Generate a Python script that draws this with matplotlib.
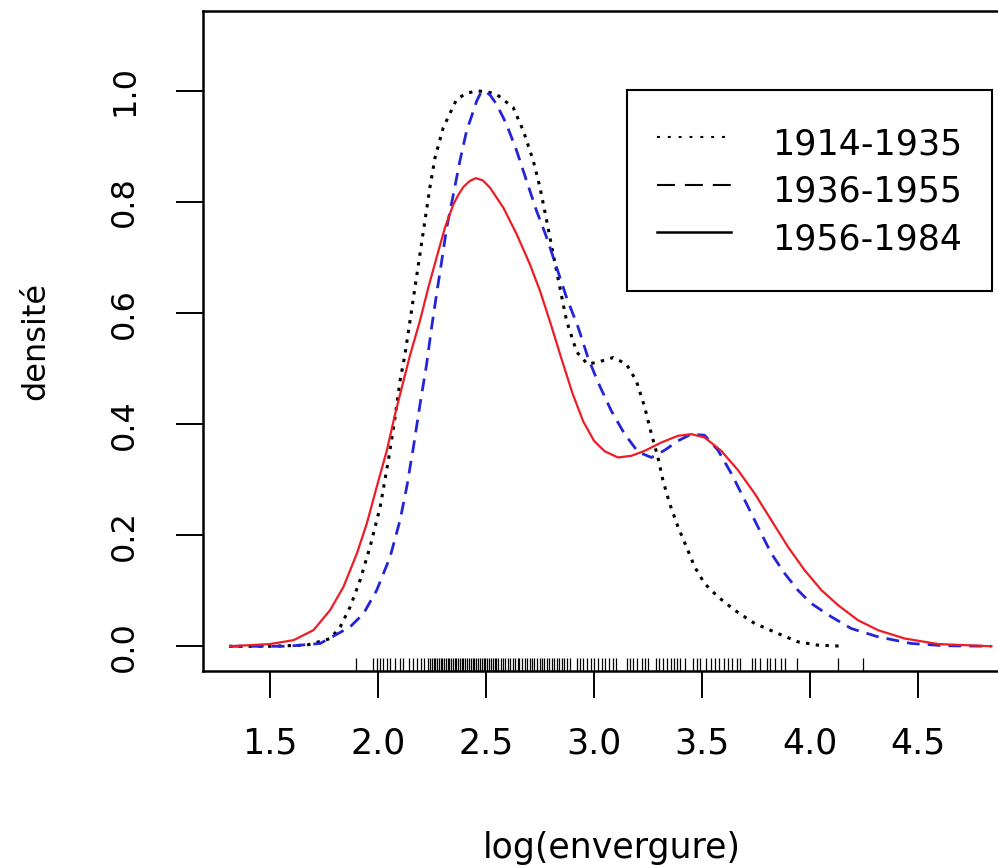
import matplotlib.pyplot as plt
from matplotlib.lines import Line2D

# densite de log(envergure) par periode
x_1914 = [1.31, 1.50, 1.67, 1.78, 1.825, 1.871, 1.917, 1.963, 2.010, 2.048, 2.079, 2.102,
          2.125, 2.148, 2.171, 2.194, 2.217, 2.240, 2.264, 2.302, 2.364, 2.41, 2.457, 2.50,
          2.549, 2.626, 2.673, 2.719, 2.750, 2.781, 2.811, 2.842, 2.873, 2.920, 2.97, 3.02,
          3.09, 3.15, 3.196, 3.235, 3.266, 3.296, 3.319, 3.350, 3.389, 3.428, 3.466, 3.512,
          3.574, 3.651, 3.744, 3.852, 3.944, 4.037, 4.16]
y_1914 = [0.0, 0.0, 0.002, 0.014, 0.035, 0.071, 0.119, 0.179, 0.251, 0.335, 0.413, 0.478,
          0.526, 0.586, 0.646, 0.706, 0.766, 0.826, 0.880, 0.934, 0.985, 0.996, 1.000, 0.999,
          0.994, 0.970, 0.928, 0.874, 0.826, 0.766, 0.706, 0.646, 0.586, 0.530, 0.508, 0.512,
          0.520, 0.508, 0.478, 0.430, 0.382, 0.340, 0.299, 0.257, 0.215, 0.179, 0.143, 0.113,
          0.089, 0.065, 0.041, 0.023, 0.008, 0.002, 0.0]

x_1936 = [1.315, 1.578, 1.732, 1.871, 1.933, 1.994, 2.056, 2.102, 2.133, 2.164, 2.195,
          2.225, 2.248, 2.271, 2.295, 2.318, 2.349, 2.379, 2.410, 2.457, 2.475, 2.495, 2.52,
          2.549, 2.595, 2.642, 2.688, 2.734, 2.781, 2.827, 2.873, 2.926, 2.972, 3.019, 3.080,
          3.142, 3.204, 3.266, 3.327, 3.389, 3.451, 3.512, 3.574, 3.636, 3.698, 3.759,
          3.821, 3.883, 3.944, 4.006, 4.099, 4.191, 4.315, 4.469, 4.623, 4.84]
y_1936 = [0.0, 0.0, 0.005, 0.035, 0.059, 0.101, 0.161, 0.227, 0.287, 0.359, 0.437,
          0.508, 0.574, 0.634, 0.694, 0.754, 0.814, 0.874, 0.928, 0.982, 0.996, 1.000, 0.992,
          0.976, 0.940, 0.892, 0.838, 0.784, 0.736, 0.682, 0.628, 0.575, 0.520, 0.475, 0.424,
          0.382, 0.350, 0.340, 0.353, 0.370, 0.382, 0.380, 0.353, 0.311, 0.263, 0.215,
          0.167, 0.131, 0.101, 0.077, 0.053, 0.032, 0.017, 0.005, 0.001, 0.0]

x_1956 = [1.315, 1.5, 1.609, 1.701, 1.778, 1.840, 1.902, 1.948, 1.994, 2.041, 2.079,
          2.118, 2.148, 2.194, 2.233, 2.271, 2.310, 2.349, 2.372, 2.395, 2.425, 2.453, 2.485,
          2.518, 2.580, 2.642, 2.703, 2.75, 2.80, 2.85, 2.90, 2.95, 3.00, 3.05, 3.111, 3.173,
          3.235, 3.312, 3.389, 3.451, 3.512, 3.589, 3.667, 3.744, 3.821, 3.898, 3.975, 4.053,
          4.130, 4.222, 4.315, 4.438, 4.593, 4.84]
y_1956 = [0.0, 0.004, 0.011, 0.029, 0.065, 0.107, 0.167, 0.221, 0.287, 0.353, 0.418,
          0.478, 0.524, 0.586, 0.646, 0.700, 0.754, 0.796, 0.813, 0.827, 0.838, 0.843, 0.839,
          0.826, 0.790, 0.742, 0.688, 0.640, 0.580, 0.517, 0.456, 0.405, 0.370, 0.351, 0.340,
          0.343, 0.352, 0.367, 0.379, 0.382, 0.376, 0.352, 0.317, 0.275, 0.227, 0.179, 0.137,
          0.101, 0.074, 0.047, 0.029, 0.014, 0.004, 0.0]

# observations (rug)
rug = [1.898, 1.978, 1.993, 2.009, 2.024, 2.043, 2.055, 2.078, 2.101, 2.117, 2.145, 2.163,
       2.179, 2.197, 2.213,
       2.233, 2.241, 2.250, 2.258, 2.266, 2.272, 2.281, 2.290, 2.297, 2.305, 2.314, 2.322,
       2.330, 2.337, 2.346, 2.355, 2.362, 2.371, 2.380, 2.388, 2.395, 2.404, 2.412, 2.421,
       2.430, 2.438, 2.446, 2.455, 2.463, 2.472, 2.480, 2.489, 2.497, 2.505, 2.514, 2.522,
       2.531, 2.540, 2.548,
       2.556, 2.568, 2.579, 2.590, 2.602, 2.611, 2.623, 2.635, 2.646, 2.655, 2.668, 2.679,
       2.690, 2.702, 2.713, 2.724, 2.736, 2.748, 2.757, 2.769, 2.781, 2.792, 2.804, 2.815,
       2.828, 2.840, 2.852, 2.863, 2.876, 2.888,
       2.920, 2.935, 2.951, 2.968, 2.984, 3.000, 3.018, 3.035, 3.052, 3.070, 3.087, 3.104,
       3.151, 3.165, 3.182, 3.197, 3.222, 3.236, 3.251,
       3.285, 3.300, 3.320, 3.340, 3.355, 3.370, 3.385, 3.400, 3.420,
       3.460, 3.475, 3.490,
       3.520, 3.540, 3.560, 3.580, 3.600, 3.620, 3.640, 3.660, 3.676,
       3.730, 3.745, 3.770, 3.800, 3.815, 3.840, 3.865, 3.884,
       3.938, 4.131, 4.247]

periods = ["1914-1935", "1936-1955", "1956-1984"]
xticks = [1.5, 2.0, 2.5, 3.0, 3.5, 4.0, 4.5]
yticks = [0.0, 0.2, 0.4, 0.6, 0.8, 1.0]

plt.rcParams['font.family'] = 'DejaVu Sans'

fig = plt.figure(figsize=(9.98, 8.68), dpi=100)
# la boite du graphique depasse a droite, comme dans l'image d'origine
ax = fig.add_axes([203.3 / 998, 197.3 / 868, (1021 - 203.3) / 998, 659.7 / 868])

ax.plot(x_1914, y_1914, color='black', lw=2.2, linestyle=(0, (1.1, 2.1)))
ax.plot(x_1936, y_1936, color='#2424d8', lw=2.0, linestyle=(0, (4.6, 2.9)))
ax.plot(x_1956, y_1956, color='#ee1c25', lw=1.6)

ax.vlines(rug, 0, 0.019, transform=ax.get_xaxis_transform(), color='black', lw=0.9)

ax.set_xlim(1.191, 4.977)
ax.set_ylim(-0.044, 1.144)

ax.set_xticks(xticks)
ax.set_xticklabels(["%.1f" % v for v in xticks], fontsize=25)
ax.set_yticks(yticks)
ax.set_yticklabels(["%.1f" % v for v in yticks], fontsize=23, rotation=90, va='center')
ax.tick_params(axis='both', direction='out', length=19.4, width=1.4, color='black')
ax.tick_params(axis='x', pad=21)
ax.tick_params(axis='y', pad=26)

for s in ax.spines.values():
    s.set_linewidth(1.8)

ax.set_xlabel("log(envergure)", fontsize=25, va='center')
ax.xaxis.set_label_coords(0.5, -0.269)
ax.set_ylabel("densité", fontsize=23, va='center')
ax.yaxis.set_label_coords(-0.2046, 0.5)

handles = [Line2D([], [], color='black', lw=1.5, linestyle=(0, (1.4, 3.8))),
           Line2D([], [], color='black', lw=1.5, linestyle=(0, (8.6, 4.8))),
           Line2D([], [], color='black', lw=1.8)]
leg = ax.legend(handles, periods, loc='upper right',
                bbox_to_anchor=(992 / 998, 1 - 90 / 868), bbox_transform=fig.transFigure,
                borderaxespad=0, fontsize=25, handlelength=2.13, handletextpad=1.18,
                handleheight=1.71, borderpad=0.865, labelspacing=0.0,
                fancybox=False, framealpha=1)
leg.get_frame().set_edgecolor('black')
leg.get_frame().set_linewidth(1.5)

fig.savefig("out.png", dpi=100)
